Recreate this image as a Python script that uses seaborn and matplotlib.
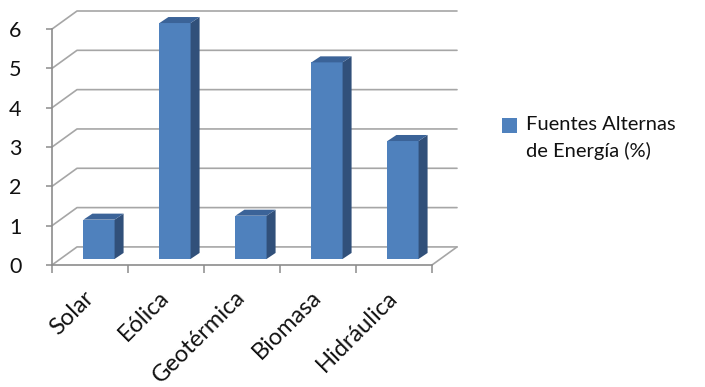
import matplotlib
matplotlib.use("Agg")
import matplotlib.pyplot as plt
import seaborn as sns
import pandas as pd
from matplotlib.patches import Polygon, Patch, Rectangle
from matplotlib.legend_handler import HandlerPatch

categories = ["Solar", "Eólica", "Geotérmica", "Biomasa", "Hidráulica"]
values = [1.0, 6.0, 1.1, 5.0, 3.0]
series_name = "Fuentes Alternas\nde Energía (%)"
yticks = [0, 1, 2, 3, 4, 5, 6]

sns.set_theme(style="white")
plt.rcParams['font.family'] = ['Lato', 'DejaVu Sans']

W, H = 705, 387
fig = plt.figure(figsize=(W / 100, H / 100), dpi=100)
# pixel geometry
x0, x1 = 52, 457
ybot, ytop = 265, 11
ax = fig.add_axes([x0 / W, (H - ybot) / H, (x1 - x0) / W, (ybot - ytop) / H])

cat_px = 76.0
unit_px = 39.17
DX = 25 / cat_px      # depth of the floor in category units
DY = 18 / unit_px     # depth of the floor in value units
fdx, fdy = 9 / cat_px, 6 / unit_px   # offset of bar front face
bdx, bdy = 9 / cat_px, 6 / unit_px   # bar depth

df = pd.DataFrame({"cat": categories, "val": values})
front = "#4f81bd"
side = "#31507a"
topc = "#3b6398"
sns.barplot(data=df, x="cat", y="val", color=front, saturation=1, width=0.41,
            ax=ax, zorder=3, edgecolor="none")

grid_c = "#a6a6a6"
n = len(categories)
# walls / gridlines
for v in yticks:
    ax.plot([-0.5, -0.5 + DX, n - 0.5 + DX], [v, v + DY, v + DY],
            color=grid_c, lw=1.2, zorder=1, clip_on=False)
ax.plot([n - 0.5, n - 0.5 + DX], [0, DY], color=grid_c, lw=1.2, zorder=1, clip_on=False)

# 3D faces of bars
for p in ax.patches:
    x, w, h = p.get_x(), p.get_width(), p.get_height()
    p.set_x(x + fdx)
    p.set_y(fdy)
    xl, xr = x + fdx, x + fdx + w
    yb, yt = fdy, fdy + h
    ax.add_patch(Polygon([(xr, yb), (xr + bdx, yb + bdy), (xr + bdx, yt + bdy), (xr, yt)],
                         closed=True, facecolor=side, edgecolor="none", zorder=3))
    ax.add_patch(Polygon([(xl, yt), (xl + bdx, yt + bdy), (xr + bdx, yt + bdy), (xr, yt)],
                         closed=True, facecolor=topc, edgecolor="none", zorder=3))

ax.set_xlim(-0.5, n - 0.5 + DX)
ax.set_ylim(0, 6 + DY)
for s in ["top", "right"]:
    ax.spines[s].set_visible(False)
axis_c = "#8c8c8c"
ax.spines["left"].set_bounds(0, 6)
ax.spines["bottom"].set_bounds(-0.5, n - 0.5)
for s in ["left", "bottom"]:
    ax.spines[s].set_color(axis_c)
    ax.spines[s].set_linewidth(1.2)

ax.set_yticks(yticks)
ax.set_yticklabels([str(t) for t in yticks], fontsize=15.5, color="#111111")
ax.tick_params(axis="y", which="major", left=True, length=4, width=1.1,
               color=axis_c, pad=18)
ax.set_xticks(range(n))
ax.set_xticklabels(categories, fontsize=17, rotation=45, ha="right",
                   rotation_mode="anchor", va="center", color="#111111")
ax.tick_params(axis="x", which="major", bottom=True, length=0, pad=21)
ax.set_xticks([i - 0.5 for i in range(n + 1)], minor=True)
ax.tick_params(axis="x", which="minor", bottom=True, length=6, width=1.1, color=axis_c)
ax.set_xlabel("")
ax.set_ylabel("")


def raised_square(legend, orig_handle, xdescent, ydescent, width, height, fontsize):
    return Rectangle((-xdescent, -ydescent + 9.0), width, height)


handle = Patch(facecolor=front, edgecolor="none")
leg = fig.legend([handle], [series_name], loc="center left",
                 bbox_to_anchor=(502 / W, 1 - 138 / H), frameon=False, fontsize=14.5,
                 handlelength=0.72, handleheight=0.72, handletextpad=0.45,
                 borderpad=0, borderaxespad=0, labelspacing=0,
                 handler_map={Patch: HandlerPatch(patch_func=raised_square)})
for t in leg.get_texts():
    t.set_linespacing(1.55)
    t.set_color("#111111")

fig.savefig("out.png", dpi=100)
